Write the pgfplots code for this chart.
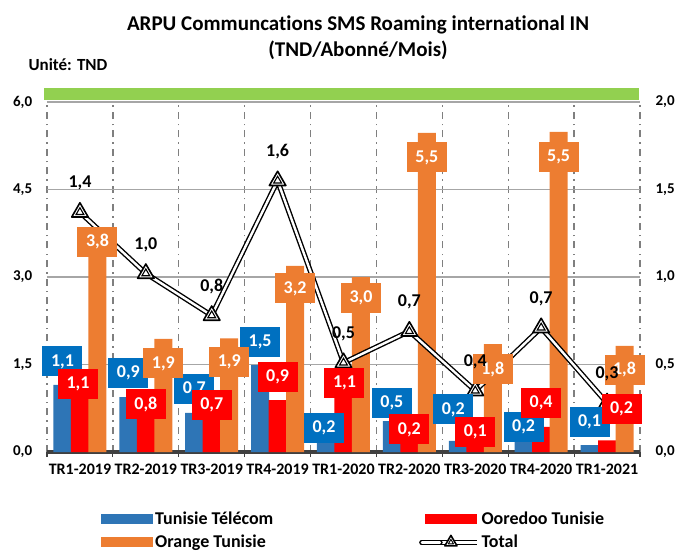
\documentclass[border=0pt]{standalone}
\usepackage{fontspec}
\setmainfont{Carlito}[Ligatures=NoCommon]
\usepackage{pgfplots}
\usepackage{pgfplotstable}
\pgfplotsset{compat=1.18}

\definecolor{ttblue}{HTML}{2E75B6}
\definecolor{ttlab}{HTML}{0070C0}
\definecolor{oored}{HTML}{FF0000}
\definecolor{orgtn}{HTML}{ED7D31}
\definecolor{band}{HTML}{92D050}
\definecolor{gridgray}{HTML}{A6A6A6}
\definecolor{dashgray}{HTML}{7F7F7F}
\definecolor{axdark}{HTML}{404040}

% x, bar value, label offset from bar top (dy, pt) and sideways (dx, pt), label
\pgfplotstableread{
x v dy dx lab
0 1.15 23.5 0 1,1
1 0.94 24 0 0,9
2 0.67 24 0 0,7
3 1.49 23.5 0 1,5
4 0.20 12.5 -2 0,2
5 0.53 18 0 0,5
6 0.19 31.5 -4.5 0,2
7 0.20 13.5 0 0,2
8 0.12 23 0 0,1
}\tbltt
\pgfplotstableread{
x v dy dx lab
0 1.10 4 -2 1,1
1 0.80 1 0 0,8
2 0.70 6 0 0,7
3 0.89 23.5 0 0,9
4 1.10 4.5 1 1,1
5 0.20 11 0 0,2
6 0.10 14.5 0 0,1
7 0.43 24 0 0,4
8 0.20 31.5 14.5 0,2
}\tbloo
\pgfplotstableread{
x v dy dx lab
0 3.80 -11.5 0 3,8
1 1.94 -24.5 0 1,9
2 1.95 -23.5 0 1,9
3 3.19 -22.5 0 3,2
4 3.00 -21 0 3,0
5 5.47 -24.5 0 5,5
6 1.85 -25 0 1,8
7 5.49 -25 0 5,5
8 1.82 -24 0 1,8
}\tblor
\pgfplotstableread{
x v lab
0 1.37 1,4
1 1.02 1,0
2 0.78 0,8
3 1.55 1,6
4 0.51 0,5
5 0.69 0,7
6 0.35 0,4
7 0.71 0,7
8 0.28 0,3
}\tbltot

\newcommand{\tck}{\bfseries\fontsize{15}{18}\selectfont}
\newcommand{\lbl}{\bfseries\fontsize{18}{21}\selectfont}

\pgfplotsset{
  geom/.style={at={(47pt,-102pt)}, anchor=north west,
    width=593pt, height=350pt, scale only axis, clip=false,
    xmin=-0.5, xmax=8.5},
  barleg/.style={legend image code/.code={\fill[##1] (0pt,-5pt) rectangle (52pt,5pt);}},
  totstyle/.style={draw=black, line width=1.4pt, double=white, double distance=2.4pt,
    line join=round, mark=triangle*, mark size=9.5pt,
    mark options={solid, fill=white, draw=black, line width=1.6pt}},
  innertri/.style={only marks, mark=triangle*, mark size=4.5pt,
    mark options={fill=white, draw=black, line width=1.1pt}},
  totleg/.style={legend image code/.code={
      \draw[##1, mark=none] (0pt,0pt) -- (52pt,0pt);
      \path[##1, mark size=7pt] plot coordinates {(26pt,0pt)};
      \path[mark=triangle*, mark size=3pt,
        mark options={fill=white, draw=black, line width=0.9pt}]
        plot coordinates {(26pt,0pt)};}},
  boxlab/.style 2 args={nodes near coords, point meta=explicit symbolic,
    visualization depends on={\thisrow{dy} \as \dy},
    visualization depends on={\thisrow{dx} \as \dx},
    every node near coord/.style={fill=#1, text=white, font=\lbl,
      minimum width=40pt, minimum height=30pt, inner sep=0pt,
      anchor=center, xshift=#2, xshift=\dx pt, yshift=\dy pt}},
  numfmt/.style={/pgf/number format/use comma, /pgf/number format/fixed,
    /pgf/number format/fixed zerofill, /pgf/number format/precision=1,
    /pgf/number format/assume math mode=true},
}

\begin{document}
\begin{tikzpicture}
\path[use as bounding box] (0pt,0pt) rectangle (678pt,-551pt);

\node[align=center, font=\bfseries\fontsize{21}{26}\selectfont] at (358pt,-38pt)
  {ARPU Communcations SMS Roaming international IN\\(TND/Abonné/Mois)};
\node[anchor=west, font=\bfseries\fontsize{17}{20}\selectfont] at (25pt,-65pt) {Unité: TND};
\fill[band] (44pt,-88pt) rectangle (639pt,-100pt);

% bars, grid, axes, legend
\begin{axis}[
  geom,
  ybar, bar width=18pt,
  ymin=0, ymax=6,
  xtick={0,...,8},
  xticklabels={TR1-2019,TR2-2019,TR3-2019,TR4-2019,TR1-2020,TR2-2020,TR3-2020,TR4-2020,TR1-2021},
  major x tick style={draw=none},
  minor xtick={-0.5,0.5,...,8.5},
  minor x tick style={axdark, line width=1.2pt},
  minor tick length=5pt, tick align=outside,
  xminorgrids,
  minor x grid style={dashgray, line width=1.3pt, dash pattern=on 7pt off 5pt on 1.5pt off 5pt},
  ytick={0,1.5,...,6},
  ymajorgrids,
  major y grid style={gridgray, line width=1.3pt},
  ytick style={draw=none},
  axis x line*=bottom, axis y line*=left,
  x axis line style={axdark, line width=4pt},
  y axis line style={draw=none},
  yticklabel style={font=\tck, numfmt, xshift=-7pt},
  xticklabel style={font=\bfseries\fontsize{16}{19}\selectfont, yshift=-4pt},
  legend style={at={(0.086,-0.16)}, anchor=north west, draw=none, fill=none,
    font=\lbl, row sep=5pt,
    /tikz/column 2/.style={column sep=144pt}},
  legend columns=2, legend cell align=left,
]
\addplot[fill=ttblue, draw=none, bar shift=-17.5pt, barleg] table[x=x, y=v] {\tbltt};
\addlegendentry{Tunisie Télécom}
\addplot[fill=oored, draw=none, bar shift=0pt, barleg] table[x=x, y=v] {\tbloo};
\addlegendentry{Ooredoo Tunisie}
\addplot[fill=orgtn, draw=none, bar shift=17.5pt, barleg] table[x=x, y=v] {\tblor};
\addlegendentry{Orange Tunisie}
\addlegendimage{totstyle, totleg}
\addlegendentry{Total}
\end{axis}

% total line, right axis
\begin{axis}[
  geom,
  ymin=0, ymax=2,
  axis x line=none,
  axis y line*=right,
  y axis line style={draw=none},
  ytick={0,0.5,...,2},
  ytick style={draw=none},
  yticklabel style={font=\tck, numfmt, xshift=12pt},
]
\addplot[totstyle] table[x=x, y=v] {\tbltot};
\addplot[innertri] table[x=x, y=v] {\tbltot};
\end{axis}

% bar data labels, above the line
\begin{axis}[geom, hide axis, ymin=0, ymax=6, ybar, bar width=18pt]
\addplot[draw=none, fill=none, bar shift=-17.5pt, boxlab={ttlab}{-17.5pt}]
  table[x=x, y=v, meta=lab] {\tbltt};
\addplot[draw=none, fill=none, bar shift=0pt, boxlab={oored}{0pt}]
  table[x=x, y=v, meta=lab] {\tbloo};
\addplot[draw=none, fill=none, bar shift=17.5pt, boxlab={orgtn}{17.5pt}]
  table[x=x, y=v, meta=lab] {\tblor};
\end{axis}

% total data labels, on top
\begin{axis}[geom, hide axis, ymin=0, ymax=2]
\addplot[draw=none, mark=none, nodes near coords, point meta=explicit symbolic,
  every node near coord/.style={font=\lbl, text=black, anchor=center, yshift=29pt}]
  table[x=x, y=v, meta=lab] {\tbltot};
\end{axis}
\end{tikzpicture}
\end{document}
